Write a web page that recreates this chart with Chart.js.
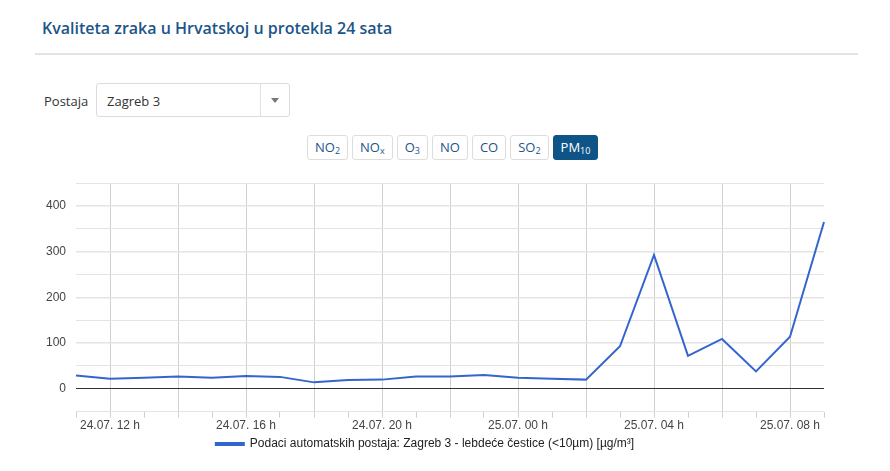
<!DOCTYPE html>
<html>
<head>
<meta charset="utf-8">
<script src="https://cdn.jsdelivr.net/npm/chart.js@4.4.0/dist/chart.umd.min.js"></script>
<style>
  body { margin: 0; background: #fff; font-family: "Open Sans", sans-serif; width: 890px; height: 471px; overflow: hidden; position: relative; }
  h1 { position: absolute; left: 42px; top: 17px; margin: 0; font-size: 16px; font-weight: 600; color: #1d5588; }
  .rule { position: absolute; left: 35px; top: 53px; width: 823px; height: 2px; background: #e1e5ea; }
  .lbl { position: absolute; left: 44px; top: 92px; font-size: 13px; color: #333; }
  .sel { position: absolute; left: 96px; top: 83px; width: 194px; height: 34px; border: 1px solid #dcdcdc; border-radius: 3px; box-sizing: border-box; font-size: 13px; color: #333; }
  .sel span { position: absolute; left: 10px; top: 8px; }
  .sel i { position: absolute; right: 0; top: 0; width: 28px; height: 32px; border-left: 1px solid #e2e2e2; }
  .sel i::after { content: ""; position: absolute; left: 10px; top: 14px; border: 4px solid transparent; border-top: 5px solid #777; }
  .btns { position: absolute; left: 307px; top: 135px; display: flex; gap: 4px; }
  .btns div { border: 1px solid #ddd; border-radius: 3px; padding: 0 7px; height: 23px; line-height: 23px; font-size: 13px; color: #1d5588; }
  .btns div.on { background: #0f5486; border-color: #0f5486; color: #fff; }
  sub { font-size: 9px; vertical-align: -2px; line-height: 0; }
  #wrap { position: absolute; left: 26px; top: 166px; width: 806px; height: 294px; }
</style>
</head>
<body>
<h1>Kvaliteta zraka u Hrvatskoj u protekla 24 sata</h1>
<div class="rule"></div>
<div class="lbl">Postaja</div>
<div class="sel"><span>Zagreb 3</span><i></i></div>
<div class="btns">
  <div>NO<sub>2</sub></div><div>NO<sub>x</sub></div><div>O<sub>3</sub></div><div>NO</div><div>CO</div><div>SO<sub>2</sub></div><div class="on">PM<sub>10</sub></div>
</div>
<div id="wrap"><canvas id="chart"></canvas></div>
<script>
'use strict';

const hours = ['24.07. 11 h', '24.07. 12 h', '24.07. 13 h', '24.07. 14 h', '24.07. 15 h', '24.07. 16 h',
  '24.07. 17 h', '24.07. 18 h', '24.07. 19 h', '24.07. 20 h', '24.07. 21 h', '24.07. 22 h', '24.07. 23 h',
  '25.07. 00 h', '25.07. 01 h', '25.07. 02 h', '25.07. 03 h', '25.07. 04 h', '25.07. 05 h', '25.07. 06 h',
  '25.07. 07 h', '25.07. 08 h', '25.07. 09 h'];
const shownLabels = ['24.07. 12 h', '24.07. 16 h', '24.07. 20 h', '25.07. 00 h', '25.07. 04 h', '25.07. 08 h'];
const pm10 = [29, 22, 24, 27, 24, 28, 26, 14, 19, 20, 27, 27, 30, 24, 22, 20, 93, 293, 72, 109, 38, 114, 365];
const seriesName = 'Podaci automatskih postaja: Zagreb 3 - lebdeće čestice (<10µm) [µg/m³]';

const font = { family: 'Arial, "Liberation Sans", sans-serif', size: 12 };

new Chart(document.getElementById('chart'), {
  type: 'line',
  data: {
    labels: hours,
    datasets: [{
      label: seriesName,
      data: pm10,
      borderColor: '#3366cc',
      backgroundColor: '#3366cc',
      borderWidth: 2,
      pointRadius: 0,
      tension: 0
    }]
  },
  options: {
    animation: false,
    responsive: true,
    maintainAspectRatio: false,
    layout: { padding: { top: 10, right: 8 } },
    plugins: {
      legend: {
        position: 'bottom',
        labels: { font, color: '#222', boxWidth: 28, boxHeight: 2, padding: 4 }
      },
      tooltip: { enabled: false }
    },
    scales: {
      x: {
        offset: false,
        grid: {
          color: ctx => (ctx.index % 2 === 1 ? '#d0d0d0' : 'rgba(0,0,0,0)'),
          tickColor: '#d0d0d0',
          tickLength: 6,
          lineWidth: 1
        },
        border: { display: false },
        ticks: {
          autoSkip: false, maxRotation: 0, font, color: '#444', padding: 1,
          callback: function (v) { const l = this.getLabelForValue(v); return shownLabels.includes(l) ? l : ''; }
        }
      },
      y: {
        min: -50, max: 450,
        afterFit: s => { s.width = 50; },
        grid: {
          color: ctx => (ctx.tick.value === 0 ? '#333' : '#e4e4e4'),
          lineWidth: ctx => (ctx.tick.value === 0 ? 1 : (ctx.tick.value % 100 === 0 ? 1.5 : 1)),
          drawTicks: false
        },
        border: { display: false },
        ticks: {
          stepSize: 50, font, color: '#444', padding: 10,
          callback: v => (v % 100 === 0 && v >= 0 && v <= 400 ? v : '')
        }
      }
    }
  }
});
</script>
</body>
</html>
